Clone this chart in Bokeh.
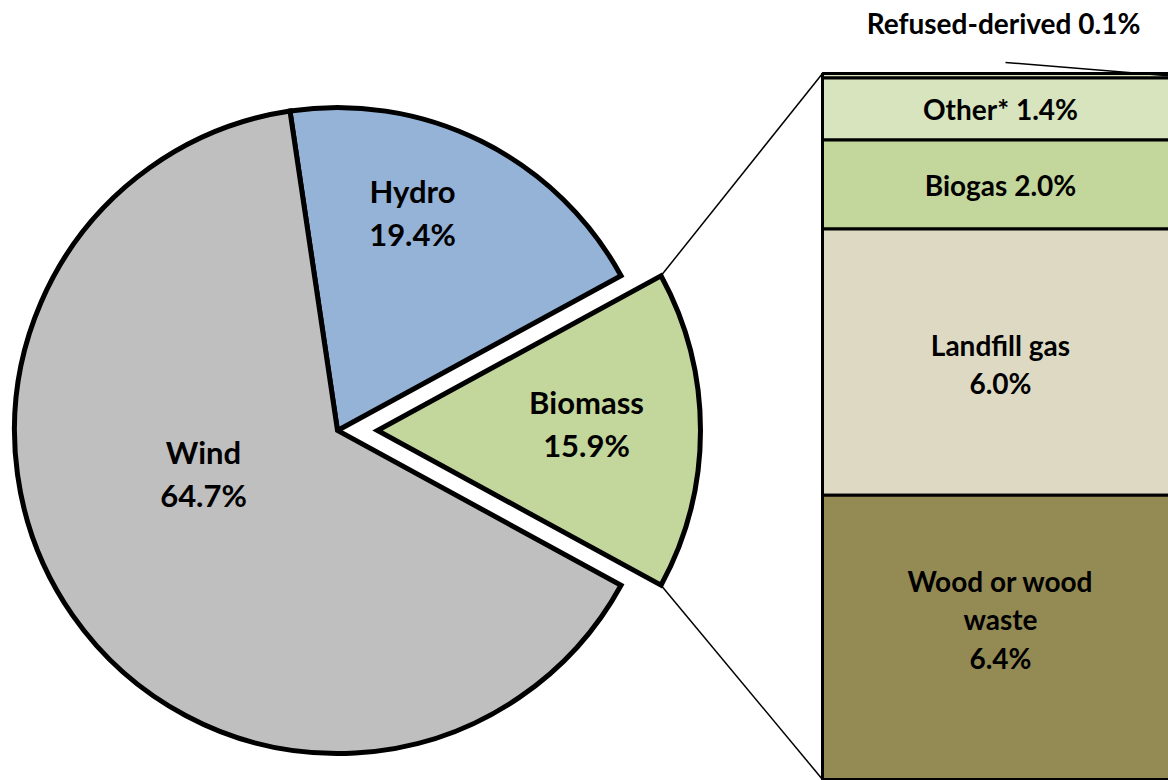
import numpy as np
from bokeh.plotting import figure
from bokeh.models import Range1d
from bokeh.embed import file_html
from bokeh.resources import INLINE
from bokeh.core.properties import value

# ---------------- data ----------------
pie_labels = ["Biomass", "Hydro", "Wind"]
pie_values = [15.9, 19.4, 64.7]
pie_colors = ["#c3d69b", "#95b3d7", "#bfbfbf"]

bar_labels = ["Refused-derived", "Other*", "Biogas", "Landfill gas", "Wood or wood\nwaste"]
bar_values = [0.1, 1.4, 2.0, 6.0, 6.4]
bar_colors = ["#d7e4bd", "#d7e4bd", "#c3d69b", "#ddd9c3", "#948a54"]
bar_sep = [" ", " ", " ", "\n", "\n"]

# ---------------- layout (page pixels) ----------------
W, H = 1168, 780
OX, OY = 0, 0
def Y(ypix):
    return (OY + H) - ypix

CX, CY, R = 337, 430, 323
EXPLODE = 40
pie_label_xy = [(586, 423), (412, 212), (203, 473)]

BX0, BX1, BTOP = 822, 1178, 73
K = 44.4  # pixels per percent
bar_label_dy = [0, 0, 0, 2, -18]
refused_label_xy = (1003, 22)

FONT = value("Lato")

p = figure(width=W, height=H, x_range=Range1d(OX, OX + W), y_range=Range1d(0, H),
           output_backend="svg", toolbar_location=None, min_border=0)
p.axis.visible = False
p.grid.visible = False
p.outline_line_color = None
p.background_fill_color = "white"
p.border_fill_color = "white"

# pie geometry
vals = np.array(pie_values)
deg = vals / vals.sum() * 360.0
start = np.empty(3)
start[0] = -deg[0] / 2
for i in range(1, 3):
    start[i] = start[i - 1] + deg[i - 1]
end = start + deg
mid = np.radians((start + end) / 2)
xs = np.array([CX + (EXPLODE * np.cos(mid[0]) if i == 0 else 0) for i in range(3)])
ys = np.array([Y(CY) + (EXPLODE * np.sin(mid[0]) if i == 0 else 0) for i in range(3)])

# bar geometry
bv = np.array(bar_values)
tops = BTOP + K * np.concatenate([[0], np.cumsum(bv)[:-1]])
bots = tops + K * bv

# connector lines from exploded slice to bar
c_top = (xs[0] + R * np.cos(np.radians(end[0])), ys[0] + R * np.sin(np.radians(end[0])))
c_bot = (xs[0] + R * np.cos(np.radians(start[0])), ys[0] + R * np.sin(np.radians(start[0])))
p.segment(x0=[c_top[0], c_bot[0]], y0=[c_top[1], c_bot[1]],
          x1=[BX0, BX0], y1=[Y(tops[0]), Y(bots[-1])],
          line_color="black", line_width=1.5)

p.wedge(x=xs, y=ys, radius=R, start_angle=start, end_angle=end, start_angle_units="deg",
        end_angle_units="deg", fill_color=pie_colors, line_color="black", line_width=5,
        line_join="miter")

for i, lab in enumerate(pie_labels):
    lx, ly = pie_label_xy[i]
    p.text(x=[lx], y=[Y(ly)], text=[f"{lab}\n{pie_values[i]:.1f}%"],
           text_align="center", text_baseline="middle", text_font=FONT,
           text_font_style="bold", text_font_size="31px", text_line_height=1.12,
           text_color="black")

p.quad(left=BX0, right=BX1, top=[Y(t) for t in tops], bottom=[Y(b) for b in bots],
       fill_color=bar_colors, line_color="black", line_width=3)

for i, lab in enumerate(bar_labels):
    txt = f"{lab}{bar_sep[i]}{bar_values[i]:.1f}%"
    if i == 0:
        lx, ly = refused_label_xy
        p.segment(x0=[1005], y0=[Y(62)], x1=[OX + W], y1=[Y((tops[0] + bots[0]) / 2)],
                  line_color="black", line_width=1.5)
    else:
        lx = (BX0 + BX1) / 2
        ly = (tops[i] + bots[i]) / 2 + bar_label_dy[i]
    p.text(x=[lx], y=[Y(ly)], text=[txt], text_align="center", text_baseline="middle",
           text_font=FONT, text_font_style="bold", text_font_size="28px",
           text_line_height=1.13, text_color="black")

open("out.html", "w").write(file_html(p, INLINE))
